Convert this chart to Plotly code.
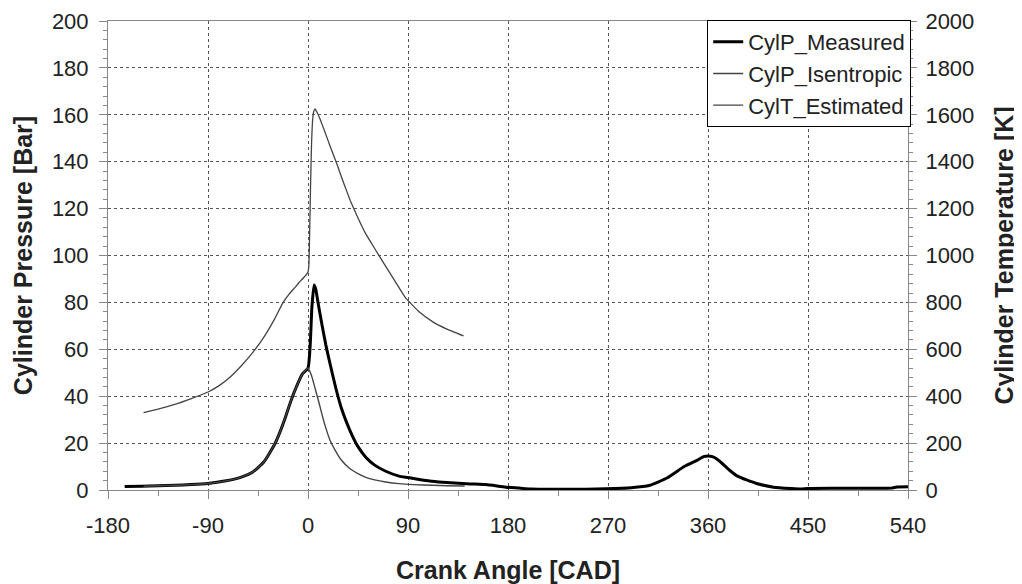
import plotly.graph_objects as go

# ---- data ----
meas_cad = [-165, -150, -135, -120, -105, -90, -75, -60, -50, -40, -30, -25, -20, -15, -10, -5, 0,
            2, 3.5, 5.5, 7, 9, 12, 16, 20, 25, 30, 35, 40, 45, 52, 60, 70, 82, 90, 100, 114, 125,
            146, 160, 178, 190, 201, 220, 250, 268, 291, 307, 323, 339, 350, 356, 360, 364, 370,
            380, 387, 403, 419, 435, 443, 450, 470, 500, 525, 530, 540]
meas_bar = [1.5, 1.6, 1.8, 2.0, 2.3, 2.8, 3.8, 5.5, 7.6, 11.8, 19.5, 25.0, 31.5, 38.5, 44.5, 49.5, 52.0,
            62.0, 78.0, 87.4, 85.5, 80.0, 72.0, 62.0, 53.5, 43.5, 35.0, 28.5, 23.0, 18.5, 14.0, 10.6, 8.0, 5.9, 5.3, 4.5, 3.6, 3.2,
            2.6, 2.3, 1.2, 0.8, 0.4, 0.3, 0.3, 0.5, 1.0, 1.9, 5.1, 10.1, 12.6, 14.2, 14.5, 14.2, 12.5,
            8.2, 5.8, 2.9, 1.2, 0.6, 0.4, 0.6, 0.7, 0.7, 0.8, 1.3, 1.4]

isen_cad = [-148, -135, -120, -105, -90, -75, -60, -50, -40, -30, -25, -20, -15, -10, -5, 0,
            3, 6, 10, 13, 16, 20, 25, 30, 37, 45, 52, 60, 70, 82, 95, 112, 125, 141]
isen_bar = [1.6, 1.8, 2.0, 2.3, 2.8, 3.8, 5.5, 7.6, 11.8, 19.5, 25.0, 31.5, 38.5, 44.5, 49.5, 52.0,
            49.0, 44.0, 37.0, 31.5, 26.5, 21.0, 16.5, 12.8, 9.4, 7.0, 5.4, 4.3, 3.4, 2.7, 2.3, 2.0, 1.8, 1.7]

temp_cad = [-148, -135, -120, -105, -90, -80, -70, -60, -50, -40, -30, -23, -17, -12, -8, -4, 0,
            0.8, 1.5, 2.3, 3.2, 4.2, 5.2, 6.3, 8, 11, 15, 20, 26, 32, 38, 45, 52, 60, 67, 78, 88,
            100, 112, 125, 140]
temp_k = [330, 345, 365, 390, 418, 445, 482, 530, 585, 650, 730, 795, 835, 862, 885, 905, 930,
          960, 1100, 1300, 1480, 1580, 1615, 1625, 1612, 1580, 1530, 1465, 1390, 1310, 1235, 1160, 1092, 1030, 976, 893, 818,
          760, 718, 686, 657]

x_ticks = [-180, -90, 0, 90, 180, 270, 360, 450, 540]

FONT = "Liberation Sans, Arial, sans-serif"
AXCOL = "#888888"
GRIDCOL = "#555555"

fig = go.Figure()
fig.add_trace(go.Scatter(x=meas_cad, y=meas_bar, mode="lines", name="CylP_Measured",
                         line=dict(color="#000000", width=3, shape="spline", smoothing=0.5)))
fig.add_trace(go.Scatter(x=isen_cad, y=isen_bar, mode="lines", name="CylP_Isentropic",
                         line=dict(color="#444444", width=1.4, shape="spline", smoothing=0.5)))
fig.add_trace(go.Scatter(x=temp_cad, y=temp_k, mode="lines", name="CylT_Estimated", yaxis="y2",
                         line=dict(color="#444444", width=1.3, shape="spline", smoothing=0.3)))

# the page body adds an 8 px offset, so the figure is 8 px smaller and margins compensate
fig.update_layout(
    width=1014, height=576,
    margin=dict(l=100, r=114, t=13, b=94),
    paper_bgcolor="white", plot_bgcolor="white",
    font=dict(family=FONT, size=22, color="#222222"),
    showlegend=True,
    legend=dict(x=1.004, xanchor="right", y=1.002, yanchor="top", bgcolor="white",
                bordercolor="#000000", borderwidth=1, font=dict(size=22, color="#222222"),
                itemwidth=30, tracegroupgap=0),
    xaxis=dict(range=[-180, 540], tickvals=x_ticks, ticktext=[str(v) for v in x_ticks],
               showline=True, linecolor=AXCOL, linewidth=1, mirror=True,
               ticks="outside", ticklen=8, tickcolor=AXCOL,
               minor=dict(dtick=45, tick0=-180, ticks="outside", ticklen=5, tickcolor=AXCOL, showgrid=False),
               showgrid=True, gridcolor=GRIDCOL, griddash="dot", gridwidth=1,
               zeroline=False, ticklabelstandoff=8, automargin=False,
               title=dict(text="<b>Crank Angle [CAD]</b>", font=dict(size=25, color="#222222"), standoff=24)),
    yaxis=dict(range=[0, 200], dtick=20, tick0=0,
               showline=True, linecolor=AXCOL, linewidth=1,
               ticks="outside", ticklen=8, tickcolor=AXCOL,
               minor=dict(dtick=4, ticks="outside", ticklen=4, tickcolor=AXCOL, showgrid=False),
               showgrid=True, gridcolor=GRIDCOL, griddash="dot", gridwidth=1,
               zeroline=False, ticklabelstandoff=6, automargin=False,
               title=dict(text="<b>Cylinder Pressure [Bar]</b>", font=dict(size=25, color="#222222"), standoff=12)),
    yaxis2=dict(range=[0, 2000], dtick=200, tick0=0, overlaying="y", side="right",
                showline=True, linecolor=AXCOL, linewidth=1,
                ticks="outside", ticklen=8, tickcolor=AXCOL,
                minor=dict(dtick=40, ticks="outside", ticklen=4, tickcolor=AXCOL, showgrid=False),
                showgrid=False, zeroline=False, ticklabelstandoff=4, automargin=False,
                title=dict(text="<b>Cylinder Temperature [K]</b>", font=dict(size=25, color="#222222"), standoff=22)),
)

fig.write_html("out.html")
